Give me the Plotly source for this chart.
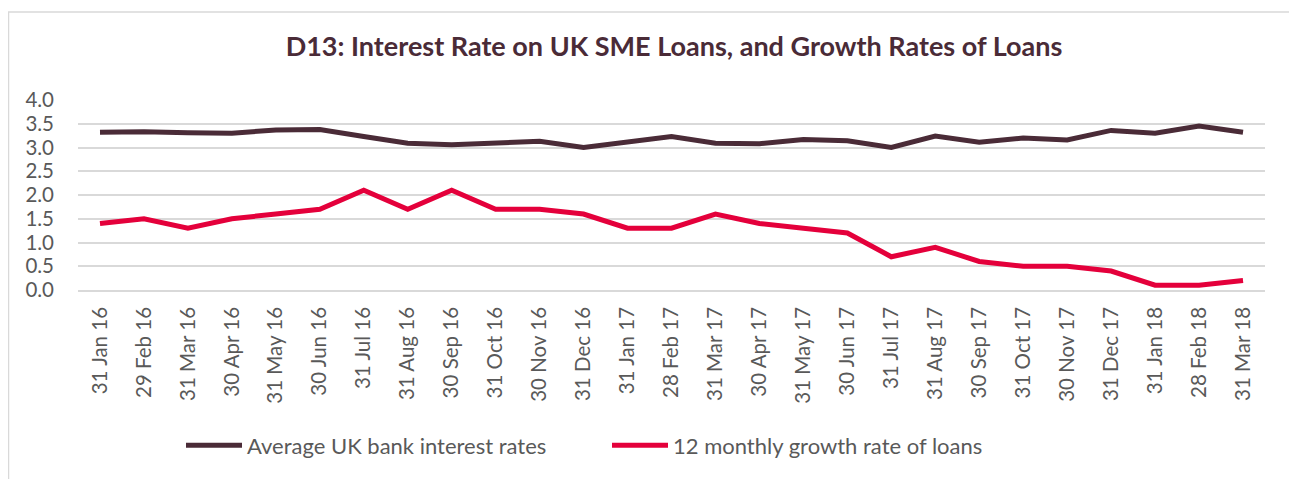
import plotly.graph_objects as go

months = ["31 Jan 16", "29 Feb 16", "31 Mar 16", "30 Apr 16", "31 May 16", "30 Jun 16",
          "31 Jul 16", "31 Aug 16", "30 Sep 16", "31 Oct 16", "30 Nov 16", "31 Dec 16",
          "31 Jan 17", "28 Feb 17", "31 Mar 17", "30 Apr 17", "31 May 17", "30 Jun 17",
          "31 Jul 17", "31 Aug 17", "30 Sep 17", "31 Oct 17", "30 Nov 17", "31 Dec 17",
          "31 Jan 18", "28 Feb 18", "31 Mar 18"]

interest_rates = [3.32, 3.33, 3.31, 3.30, 3.37, 3.38, 3.23, 3.09, 3.06, 3.09, 3.13, 3.00,
                  3.11, 3.23, 3.09, 3.08, 3.17, 3.14, 3.00, 3.24, 3.11, 3.20, 3.16, 3.36,
                  3.30, 3.45, 3.32]

loan_growth = [1.4, 1.5, 1.3, 1.5, 1.6, 1.7, 2.1, 1.7, 2.1, 1.7, 1.7, 1.6,
               1.3, 1.3, 1.6, 1.4, 1.3, 1.2, 0.7, 0.9, 0.6, 0.5, 0.5, 0.4,
               0.1, 0.1, 0.2]

y_ticks = [0.0, 0.5, 1.0, 1.5, 2.0, 2.5, 3.0, 3.5, 4.0]
y_labels = ["0.0", "0.5", "1.0", "1.5", "2.0", "2.5", "3.0", "3.5", "4.0"]

DARK = "#4A2B37"
RED = "#E4003B"
GREY_TXT = "#595959"
GRID = "#D9D9D9"
FONT = "Lato"

OFF = 8  # default page body margin
W, H = 1297 - OFF, 479 - OFF
L, R, T, B = 78 - OFF, 32, 100 - OFF, 187
pw, ph = W - L - R, H - T - B


def px_x(p):
    """page pixel x -> paper coordinate"""
    return (p - OFF - L) / pw


def px_y(p):
    """page pixel y -> paper coordinate"""
    return (H - B - (p - OFF)) / ph


fig = go.Figure()
fig.add_trace(go.Scatter(x=months, y=interest_rates, mode="lines",
                         name="Average UK bank interest rates",
                         line=dict(color=DARK, width=5)))
fig.add_trace(go.Scatter(x=months, y=loan_growth, mode="lines",
                         name="12 monthly growth rate of loans",
                         line=dict(color=RED, width=5)))

fig.update_layout(
    width=W, height=H,
    margin=dict(l=L, r=R, t=T, b=B),
    paper_bgcolor="white", plot_bgcolor="white",
    font=dict(family=FONT, color=GREY_TXT, size=20),
    title=dict(text="<b>D13: Interest Rate on UK SME Loans, and Growth Rates of Loans</b>",
               x=(674 - OFF) / W, xanchor="center", xref="container",
               y=1 - (47 - OFF) / H, yanchor="middle", yref="container",
               font=dict(family=FONT, size=27, color=DARK)),
    showlegend=True,
    legend=dict(orientation="h", x=px_x(181), xanchor="left", y=px_y(449), yanchor="middle",
                font=dict(family=FONT, size=22, color=GREY_TXT),
                itemwidth=56, entrywidth=355, entrywidthmode="pixels",
                bgcolor="rgba(0,0,0,0)"),
    xaxis=dict(type="category", tickangle=-90, showgrid=False, showline=True,
               linecolor=GRID, linewidth=1.5, ticks="",
               ticklabelstandoff=7,
               tickfont=dict(family=FONT, size=20.5, color=GREY_TXT),
               range=[-0.5, len(months) - 0.5]),
    yaxis=dict(range=[0, 4], tickvals=y_ticks, ticktext=y_labels,
               showgrid=True, gridcolor=GRID, gridwidth=1.5,
               zeroline=False, showline=False, ticks="",
               ticklabelstandoff=23,
               tickfont=dict(family=FONT, size=20.5, color=GREY_TXT)),
    shapes=[dict(type="rect", xref="paper", yref="paper",
                 x0=px_x(8.5), x1=px_x(1293), y0=px_y(500), y1=px_y(11),
                 line=dict(color="#D9D9D9", width=1.5), fillcolor="rgba(0,0,0,0)",
                 layer="below")],
)

fig.write_html("out.html")
